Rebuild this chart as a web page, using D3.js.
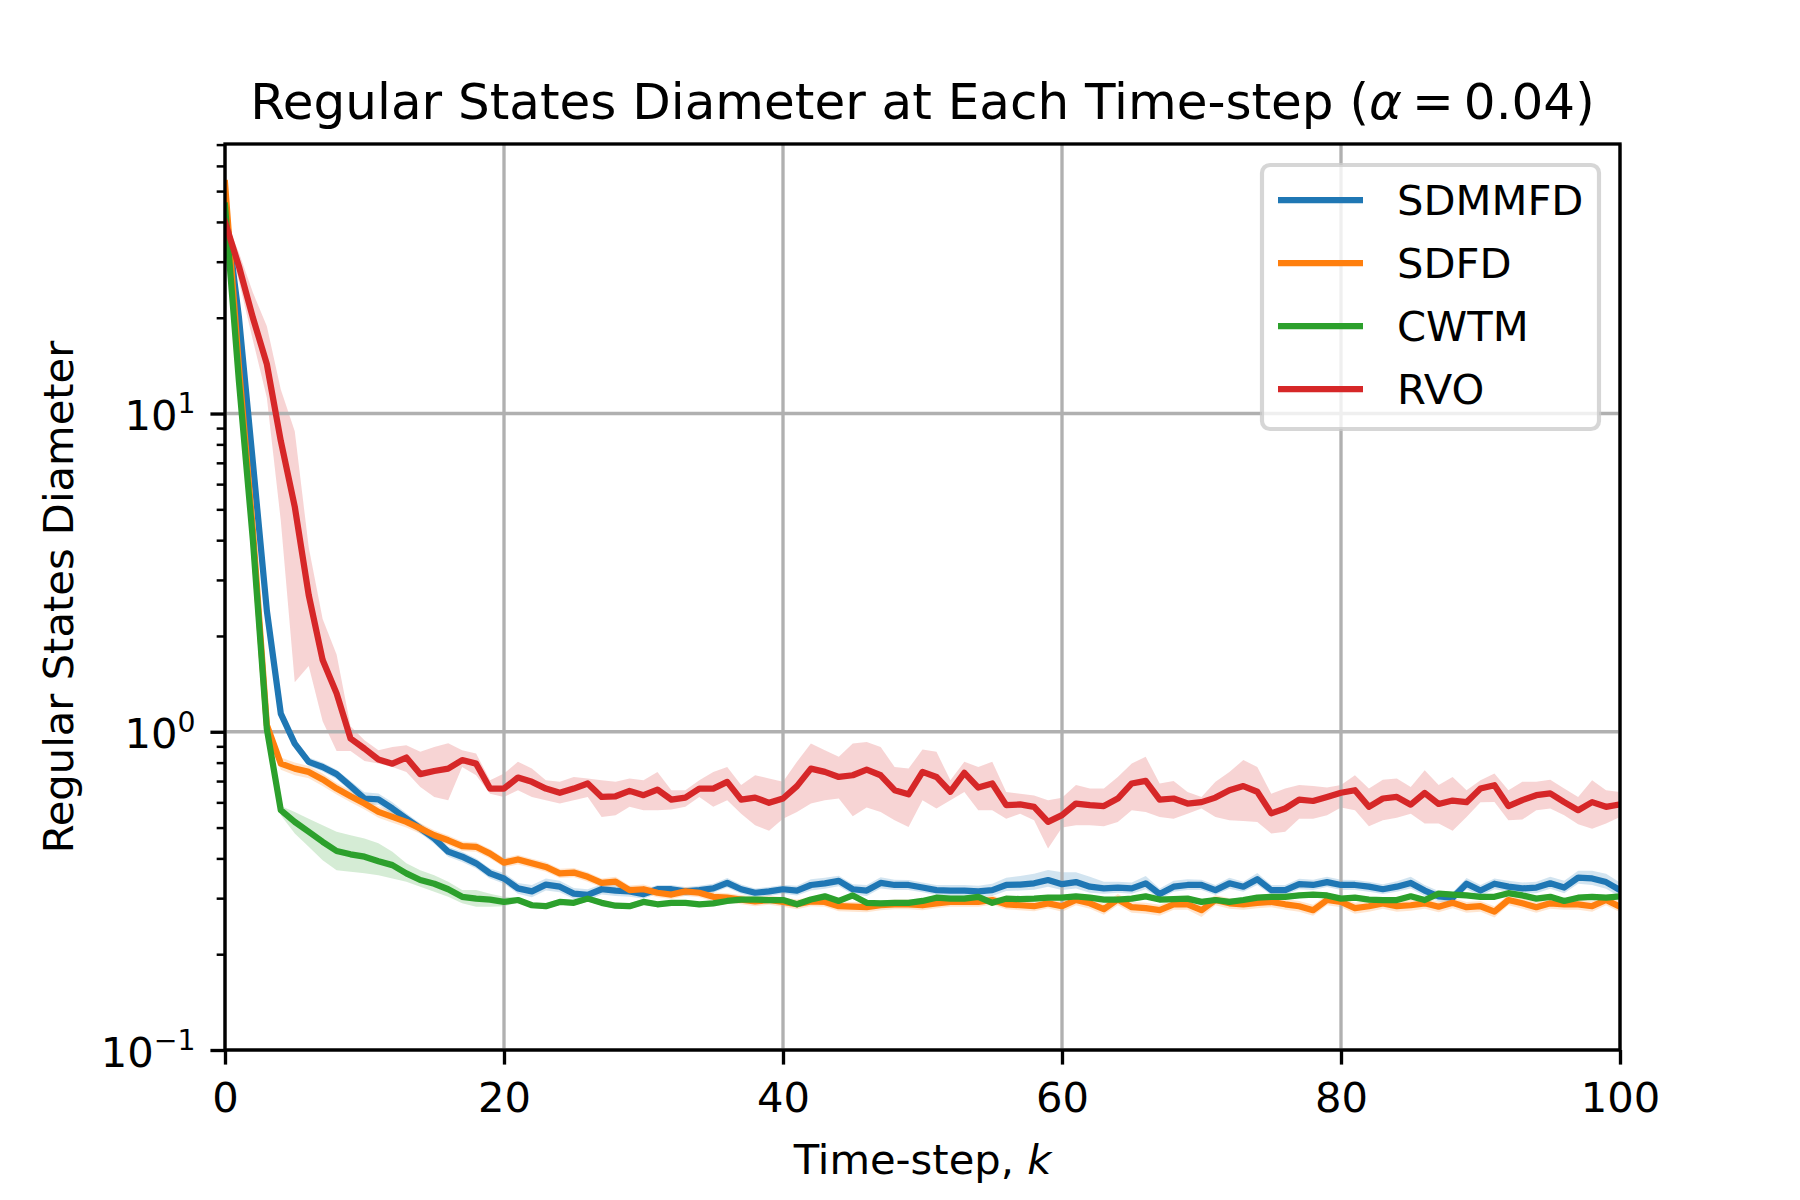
<!DOCTYPE html>
<html>
<head>
<meta charset="utf-8">
<script src="https://cdn.jsdelivr.net/npm/d3@7"></script>
<style>
  body { margin: 0; background: #fff; }
  svg text { font-family: "DejaVu Sans", sans-serif; fill: #000; }
</style>
</head>
<body>
<div id="chart"></div>
<script>

// Values, one per time-step k = 0..100

const sdmmfdMean = [
  45, 20, 7, 2.4, 1.14, 0.918, 0.804, 0.775, 0.736, 0.675,
  0.617, 0.613, 0.574, 0.534, 0.497, 0.462, 0.420, 0.405, 0.386, 0.359,
  0.346, 0.322, 0.315, 0.331, 0.326, 0.310, 0.307, 0.320, 0.317, 0.315,
  0.309, 0.320, 0.320, 0.315, 0.318, 0.322, 0.335, 0.320, 0.312, 0.315,
  0.320, 0.317, 0.330, 0.334, 0.340, 0.320, 0.317, 0.335, 0.330, 0.330,
  0.324, 0.318, 0.317, 0.317, 0.315, 0.318, 0.330, 0.331, 0.334, 0.342,
  0.332, 0.337, 0.326, 0.322, 0.324, 0.322, 0.334, 0.309, 0.326, 0.330,
  0.330, 0.318, 0.334, 0.326, 0.344, 0.318, 0.318, 0.332, 0.330, 0.337,
  0.330, 0.330, 0.326, 0.320, 0.326, 0.335, 0.317, 0.304, 0.301, 0.333,
  0.317, 0.333, 0.326, 0.322, 0.324, 0.334, 0.324, 0.348, 0.346, 0.337,
  0.318
];
const sdmmfdLow = [
  44, 18, 6.4, 2.2, 1.10, 0.89, 0.78, 0.75, 0.71, 0.65,
  0.59, 0.59, 0.55, 0.515, 0.48, 0.445, 0.405, 0.39, 0.372, 0.346,
  0.333, 0.31, 0.302, 0.317, 0.313, 0.298, 0.295, 0.308, 0.305, 0.303,
  0.299, 0.31, 0.31, 0.305, 0.308, 0.312, 0.324, 0.31, 0.302, 0.305,
  0.31, 0.306, 0.317, 0.321, 0.327, 0.308, 0.305, 0.322, 0.318, 0.318,
  0.313, 0.307, 0.305, 0.305, 0.303, 0.305, 0.316, 0.317, 0.319, 0.326,
  0.318, 0.322, 0.312, 0.31, 0.312, 0.31, 0.32, 0.298, 0.314, 0.318,
  0.318, 0.307, 0.321, 0.314, 0.33, 0.307, 0.307, 0.32, 0.318, 0.325,
  0.318, 0.318, 0.314, 0.309, 0.314, 0.322, 0.305, 0.293, 0.29, 0.32,
  0.305, 0.32, 0.314, 0.31, 0.311, 0.321, 0.311, 0.333, 0.33, 0.321,
  0.303
];
const sdmmfdHigh = [
  46, 22, 7.6, 2.6, 1.18, 0.95, 0.83, 0.80, 0.76, 0.70,
  0.645, 0.64, 0.60, 0.555, 0.515, 0.48, 0.435, 0.42, 0.40, 0.372,
  0.36, 0.335, 0.33, 0.346, 0.34, 0.323, 0.32, 0.332, 0.33, 0.327,
  0.319, 0.33, 0.33, 0.325, 0.328, 0.333, 0.347, 0.331, 0.322, 0.325,
  0.33, 0.328, 0.344, 0.348, 0.353, 0.332, 0.33, 0.349, 0.343, 0.342,
  0.336, 0.33, 0.33, 0.33, 0.328, 0.333, 0.348, 0.352, 0.358, 0.368,
  0.362, 0.362, 0.35, 0.338, 0.338, 0.336, 0.352, 0.322, 0.34, 0.344,
  0.343, 0.33, 0.348, 0.338, 0.36, 0.33, 0.33, 0.345, 0.343, 0.35,
  0.343, 0.342, 0.338, 0.332, 0.339, 0.35, 0.33, 0.316, 0.313, 0.347,
  0.33, 0.346, 0.34, 0.336, 0.338, 0.35, 0.34, 0.366, 0.366, 0.358,
  0.336
];

const sdfdMean = [
  53, 14, 4.3, 1.05, 0.794, 0.766, 0.748, 0.708, 0.663, 0.627,
  0.595, 0.560, 0.540, 0.521, 0.497, 0.473, 0.456, 0.437, 0.435, 0.414,
  0.388, 0.397, 0.386, 0.376, 0.359, 0.361, 0.350, 0.335, 0.338, 0.318,
  0.320, 0.312, 0.308, 0.315, 0.312, 0.303, 0.301, 0.297, 0.293, 0.296,
  0.292, 0.287, 0.293, 0.292, 0.283, 0.282, 0.281, 0.285, 0.287, 0.287,
  0.285, 0.289, 0.292, 0.292, 0.292, 0.296, 0.287, 0.285, 0.283, 0.289,
  0.283, 0.296, 0.289, 0.277, 0.297, 0.281, 0.279, 0.275, 0.287, 0.287,
  0.275, 0.296, 0.289, 0.287, 0.290, 0.292, 0.287, 0.283, 0.275, 0.296,
  0.292, 0.279, 0.283, 0.289, 0.283, 0.285, 0.289, 0.282, 0.290, 0.281,
  0.283, 0.272, 0.296, 0.289, 0.281, 0.289, 0.287, 0.287, 0.283, 0.296,
  0.282
];
const sdfdLow = [
  52, 13, 4.0, 0.98, 0.76, 0.73, 0.715, 0.675, 0.635, 0.60,
  0.57, 0.537, 0.518, 0.50, 0.478, 0.456, 0.44, 0.422, 0.42, 0.40,
  0.375, 0.383, 0.373, 0.363, 0.347, 0.349, 0.338, 0.324, 0.327, 0.307,
  0.31, 0.302, 0.298, 0.305, 0.302, 0.293, 0.291, 0.287, 0.283, 0.286,
  0.282, 0.277, 0.283, 0.282, 0.273, 0.272, 0.271, 0.275, 0.277, 0.277,
  0.275, 0.279, 0.282, 0.282, 0.282, 0.286, 0.277, 0.275, 0.273, 0.279,
  0.272, 0.285, 0.278, 0.266, 0.285, 0.27, 0.268, 0.264, 0.276, 0.276,
  0.262, 0.285, 0.278, 0.276, 0.279, 0.281, 0.276, 0.272, 0.264, 0.285,
  0.281, 0.268, 0.272, 0.278, 0.272, 0.274, 0.278, 0.271, 0.279, 0.27,
  0.272, 0.261, 0.285, 0.278, 0.27, 0.278, 0.276, 0.276, 0.272, 0.285,
  0.271
];
const sdfdHigh = [
  54, 15, 4.6, 1.12, 0.83, 0.80, 0.78, 0.74, 0.69, 0.655,
  0.62, 0.583, 0.562, 0.543, 0.516, 0.49, 0.472, 0.452, 0.45, 0.428,
  0.401, 0.41, 0.399, 0.389, 0.371, 0.373, 0.362, 0.346, 0.35, 0.329,
  0.331, 0.322, 0.318, 0.325, 0.322, 0.313, 0.311, 0.307, 0.303, 0.306,
  0.302, 0.297, 0.303, 0.302, 0.293, 0.292, 0.291, 0.295, 0.297, 0.297,
  0.295, 0.299, 0.302, 0.302, 0.302, 0.306, 0.297, 0.295, 0.293, 0.299,
  0.294, 0.307, 0.3, 0.288, 0.309, 0.292, 0.29, 0.286, 0.298, 0.298,
  0.288, 0.307, 0.3, 0.298, 0.301, 0.303, 0.298, 0.294, 0.286, 0.307,
  0.303, 0.29, 0.294, 0.3, 0.294, 0.296, 0.3, 0.293, 0.301, 0.292,
  0.294, 0.283, 0.307, 0.3, 0.292, 0.3, 0.298, 0.298, 0.294, 0.307,
  0.293
];

const cwtmMean = [
  45, 12.6, 4.0, 1.02, 0.567, 0.521, 0.485, 0.451, 0.422, 0.412,
  0.405, 0.392, 0.381, 0.359, 0.342, 0.333, 0.320, 0.303, 0.299, 0.297,
  0.292, 0.296, 0.285, 0.283, 0.292, 0.290, 0.299, 0.290, 0.284, 0.283,
  0.292, 0.287, 0.290, 0.290, 0.287, 0.289, 0.294, 0.297, 0.297, 0.296,
  0.296, 0.287, 0.297, 0.304, 0.294, 0.306, 0.290, 0.289, 0.290, 0.290,
  0.294, 0.301, 0.299, 0.299, 0.303, 0.290, 0.299, 0.298, 0.299, 0.301,
  0.301, 0.304, 0.301, 0.297, 0.297, 0.299, 0.304, 0.297, 0.298, 0.299,
  0.292, 0.296, 0.292, 0.296, 0.301, 0.303, 0.303, 0.306, 0.308, 0.306,
  0.299, 0.301, 0.297, 0.296, 0.296, 0.304, 0.296, 0.310, 0.308, 0.306,
  0.303, 0.303, 0.311, 0.306, 0.299, 0.303, 0.294, 0.301, 0.303, 0.301,
  0.304
];
const cwtmLow = [
  44, 11.5, 3.6, 0.95, 0.547, 0.479, 0.435, 0.395, 0.367, 0.363,
  0.359, 0.354, 0.346, 0.338, 0.326, 0.314, 0.303, 0.289, 0.282, 0.282,
  0.283, 0.29, 0.279, 0.277, 0.286, 0.284, 0.293, 0.284, 0.278, 0.277,
  0.286, 0.281, 0.284, 0.284, 0.281, 0.283, 0.288, 0.291, 0.291, 0.29,
  0.29, 0.281, 0.291, 0.298, 0.288, 0.3, 0.284, 0.283, 0.284, 0.284,
  0.288, 0.295, 0.293, 0.293, 0.297, 0.284, 0.293, 0.292, 0.293, 0.295,
  0.295, 0.298, 0.295, 0.291, 0.291, 0.293, 0.298, 0.291, 0.292, 0.293,
  0.286, 0.29, 0.286, 0.29, 0.295, 0.297, 0.297, 0.3, 0.302, 0.3,
  0.293, 0.295, 0.291, 0.29, 0.29, 0.298, 0.29, 0.304, 0.302, 0.3,
  0.297, 0.297, 0.305, 0.3, 0.293, 0.297, 0.288, 0.295, 0.297, 0.295,
  0.298
];
const cwtmHigh = [
  46, 13.8, 4.4, 1.1, 0.584, 0.56, 0.533, 0.508, 0.485, 0.473,
  0.462, 0.446, 0.42, 0.386, 0.367, 0.354, 0.338, 0.318, 0.318, 0.31,
  0.303, 0.302, 0.291, 0.289, 0.298, 0.296, 0.305, 0.296, 0.29, 0.289,
  0.298, 0.293, 0.296, 0.296, 0.293, 0.295, 0.3, 0.303, 0.303, 0.302,
  0.302, 0.293, 0.303, 0.31, 0.3, 0.312, 0.296, 0.295, 0.296, 0.296,
  0.3, 0.307, 0.305, 0.305, 0.309, 0.296, 0.305, 0.304, 0.305, 0.307,
  0.307, 0.31, 0.307, 0.303, 0.303, 0.305, 0.31, 0.303, 0.304, 0.305,
  0.298, 0.302, 0.298, 0.302, 0.307, 0.309, 0.309, 0.312, 0.314, 0.312,
  0.305, 0.307, 0.303, 0.302, 0.302, 0.31, 0.302, 0.316, 0.314, 0.312,
  0.309, 0.309, 0.317, 0.312, 0.305, 0.309, 0.3, 0.307, 0.309, 0.307,
  0.31
];

const rvoMean = [
  40, 29, 20, 14.3, 8.2, 5.1, 2.69, 1.68, 1.32, 0.952,
  0.885, 0.818, 0.794, 0.830, 0.736, 0.753, 0.766, 0.815, 0.794, 0.663,
  0.663, 0.718, 0.696, 0.663, 0.643, 0.663, 0.688, 0.624, 0.627, 0.652,
  0.632, 0.658, 0.612, 0.621, 0.663, 0.663, 0.696, 0.612, 0.621, 0.598,
  0.617, 0.675, 0.766, 0.748, 0.721, 0.730, 0.760, 0.730, 0.655, 0.636,
  0.748, 0.721, 0.648, 0.743, 0.668, 0.688, 0.588, 0.591, 0.581, 0.521,
  0.547, 0.595, 0.588, 0.584, 0.617, 0.688, 0.701, 0.612, 0.617, 0.595,
  0.601, 0.621, 0.655, 0.675, 0.648, 0.554, 0.574, 0.612, 0.606, 0.624,
  0.643, 0.655, 0.581, 0.617, 0.624, 0.590, 0.642, 0.593, 0.608, 0.601,
  0.663, 0.679, 0.584, 0.610, 0.632, 0.640, 0.601, 0.567, 0.601, 0.581,
  0.591
];
const rvoLow = [
  39, 26, 17, 11.2, 4.6, 1.43, 1.61, 1.08, 0.87, 0.87,
  0.81, 0.795, 0.775, 0.748, 0.671, 0.624, 0.609, 0.775, 0.73, 0.639,
  0.624, 0.655, 0.624, 0.609, 0.595, 0.609, 0.624, 0.54, 0.547, 0.581,
  0.567, 0.567, 0.57, 0.581, 0.624, 0.581, 0.609, 0.553, 0.508, 0.489,
  0.533, 0.56, 0.595, 0.609, 0.617, 0.543, 0.578, 0.56, 0.527, 0.502,
  0.609, 0.574, 0.609, 0.647, 0.567, 0.567, 0.533, 0.553, 0.527, 0.43,
  0.50, 0.508, 0.508, 0.505, 0.521, 0.567, 0.56, 0.54, 0.533, 0.553,
  0.574, 0.54, 0.527, 0.524, 0.521, 0.479, 0.485, 0.533, 0.533, 0.547,
  0.578, 0.567, 0.505, 0.527, 0.537, 0.553, 0.515, 0.515, 0.489, 0.54,
  0.60, 0.602, 0.527, 0.53, 0.567, 0.574, 0.547, 0.512, 0.496, 0.515,
  0.54
];
const rvoHigh = [
  41, 32, 24, 18.8, 11.9, 8.8, 3.8, 2.26, 1.75, 1.04,
  0.94, 0.875, 0.896, 0.907, 0.865, 0.896, 0.92, 0.875, 0.854, 0.704,
  0.739, 0.805, 0.766, 0.704, 0.696, 0.721, 0.713, 0.704, 0.696, 0.713,
  0.704, 0.748, 0.655, 0.655, 0.704, 0.748, 0.775, 0.68, 0.73, 0.713,
  0.696, 0.805, 0.918, 0.875, 0.834, 0.918, 0.929, 0.896, 0.775, 0.766,
  0.879, 0.865, 0.704, 0.805, 0.775, 0.805, 0.647, 0.639, 0.631, 0.609,
  0.62, 0.68, 0.663, 0.663, 0.721, 0.795, 0.834, 0.688, 0.70, 0.647,
  0.624, 0.696, 0.748, 0.815, 0.775, 0.639, 0.663, 0.68, 0.675, 0.668,
  0.68, 0.73, 0.663, 0.707, 0.713, 0.67, 0.757, 0.68, 0.721, 0.655,
  0.704, 0.739, 0.655, 0.696, 0.696, 0.707, 0.663, 0.624, 0.704, 0.655,
  0.647
];

const steps          = d3.range(0, 101);
const seriesNames    = ['SDMMFD', 'SDFD', 'CWTM', 'RVO'];
const seriesColors   = ['#1f77b4', '#ff7f0e', '#2ca02c', '#d62728'];
const seriesMeans    = [sdmmfdMean, sdfdMean, cwtmMean, rvoMean];
const seriesLows     = [sdmmfdLow, sdfdLow, cwtmLow, rvoLow];
const seriesHighs    = [sdmmfdHigh, sdfdHigh, cwtmHigh, rvoHigh];
const xTickValues    = [0, 20, 40, 60, 80, 100];
const yMajorValues   = [0.1, 1, 10];
const yMajorExponent = ['\u22121', '0', '1'];

// Layout (matplotlib 6x4 in at 300 dpi)

const width  = 1800,
      height = 1200,
      plot   = { left: 225, right: 1620, top: 144, bottom: 1050 },
      pt     = 300 / 72,
      fontSm = 10 * pt,
      fontLg = 12 * pt;

const x = d3.scaleLinear().domain([0, 100]).range([plot.left, plot.right]);
const y = d3.scaleLog().domain([0.1, 70.3]).range([plot.bottom, plot.top]);

const svg = d3.select('#chart').append('svg')
  .attr('width', width)
  .attr('height', height)
  .attr('viewBox', `0 0 ${width} ${height}`);

svg.append('defs').append('clipPath')
  .attr('id', 'plot-clip')
  .append('rect')
  .attr('x', plot.left)
  .attr('y', plot.top)
  .attr('width', plot.right - plot.left)
  .attr('height', plot.bottom - plot.top);

const series = seriesNames.map((name, s) => ({
  name,
  color: seriesColors[s],
  points: steps.map((k, i) => ({
    k,
    mean: seriesMeans[s][i],
    low: seriesLows[s][i],
    high: seriesHighs[s][i]
  }))
}));

// Bands (below grid, like matplotlib's zorder)

const band = d3.area()
  .x(d => x(d.k))
  .y0(d => y(d.low))
  .y1(d => y(d.high));

const bands = svg.append('g').attr('clip-path', 'url(#plot-clip)');

series.forEach((s) => {
  bands.append('path')
    .attr('d', band(s.points))
    .attr('fill', s.color)
    .attr('fill-opacity', 0.2)
    .attr('stroke', 'none');
});

// Grid

const grid = svg.append('g')
  .attr('stroke', '#b0b0b0')
  .attr('stroke-width', 0.8 * pt);

xTickValues.forEach((v) => {
  grid.append('line')
    .attr('x1', x(v)).attr('x2', x(v))
    .attr('y1', plot.top).attr('y2', plot.bottom);
});

yMajorValues.forEach((v) => {
  grid.append('line')
    .attr('x1', plot.left).attr('x2', plot.right)
    .attr('y1', y(v)).attr('y2', y(v));
});

// Mean lines

const line = d3.line()
  .x(d => x(d.k))
  .y(d => y(d.mean));

const lines = svg.append('g').attr('clip-path', 'url(#plot-clip)');

series.forEach((s) => {
  lines.append('path')
    .attr('d', line(s.points))
    .attr('fill', 'none')
    .attr('stroke', s.color)
    .attr('stroke-width', 1.5 * pt)
    .attr('stroke-linejoin', 'round')
    .attr('stroke-linecap', 'square');
});

// Spines

svg.append('rect')
  .attr('x', plot.left)
  .attr('y', plot.top)
  .attr('width', plot.right - plot.left)
  .attr('height', plot.bottom - plot.top)
  .attr('fill', 'none')
  .attr('stroke', '#000')
  .attr('stroke-width', 0.8 * pt);

// X axis

const xAxis = svg.append('g')
  .attr('transform', `translate(0, ${plot.bottom})`)
  .call(d3.axisBottom(x)
    .tickValues(xTickValues)
    .tickSize(3.5 * pt)
    .tickPadding(17.8)
    .tickFormat(d3.format('d')));

xAxis.select('.domain').remove();
xAxis.selectAll('.tick line').attr('stroke', '#000').attr('stroke-width', 0.8 * pt);
xAxis.selectAll('.tick text')
  .attr('fill', '#000')
  .style('font-family', '"DejaVu Sans", sans-serif')
  .style('font-size', `${fontSm}px`);

// Y axis, minor ticks first then majors with 10^n labels

const yMinor = svg.append('g')
  .attr('transform', `translate(${plot.left}, 0)`)
  .call(d3.axisLeft(y)
    .tickValues(y.ticks().filter(v => !yMajorValues.includes(v)))
    .tickSize(2 * pt)
    .tickFormat(''));

yMinor.select('.domain').remove();
yMinor.selectAll('.tick line').attr('stroke', '#000').attr('stroke-width', 0.6 * pt);

const yAxis = svg.append('g')
  .attr('transform', `translate(${plot.left}, 0)`)
  .call(d3.axisLeft(y)
    .tickValues(yMajorValues)
    .tickSize(3.5 * pt)
    .tickFormat(''));

yAxis.select('.domain').remove();
yAxis.selectAll('.tick line').attr('stroke', '#000').attr('stroke-width', 0.8 * pt);

yAxis.selectAll('.tick text').each(function (d, i) {
  const label = d3.select(this)
    .attr('x', -29.5)
    .attr('y', 16)
    .attr('dy', null)
    .attr('fill', '#000')
    .attr('text-anchor', 'end')
    .style('font-family', '"DejaVu Sans", sans-serif')
    .style('font-size', `${fontSm}px`);

  label.append('tspan').text('10');
  label.append('tspan')
    .attr('dy', -16.6)
    .style('font-size', `${fontSm * 0.68}px`)
    .text(yMajorExponent[i]);
});

// Titles

svg.append('text')
  .attr('x', (plot.left + plot.right) / 2)
  .attr('y', 119)
  .attr('text-anchor', 'middle')
  .style('font-size', `${fontLg}px`)
  .call((t) => {
    t.append('tspan').text('Regular States Diameter at Each Time-step (');
    t.append('tspan').style('font-style', 'italic').text('\u03b1');
    t.append('tspan').text('\u2009=\u20090.04)');
  });

svg.append('text')
  .attr('x', (plot.left + plot.right) / 2)
  .attr('y', 1174)
  .attr('text-anchor', 'middle')
  .style('font-size', `${fontSm}px`)
  .call((t) => {
    t.append('tspan').text('Time-step, ');
    t.append('tspan').style('font-style', 'italic').text('k');
  });

svg.append('text')
  .attr('transform', `translate(72.5, ${(plot.top + plot.bottom) / 2}) rotate(-90)`)
  .attr('text-anchor', 'middle')
  .style('font-size', `${fontSm}px`)
  .text('Regular States Diameter');

// Legend

const legend = svg.append('g');

legend.append('rect')
  .attr('x', 1262)
  .attr('y', 165)
  .attr('width', 337)
  .attr('height', 264)
  .attr('rx', 8)
  .attr('fill', '#fff')
  .attr('fill-opacity', 0.8)
  .attr('stroke', '#cccccc')
  .attr('stroke-opacity', 0.8)
  .attr('stroke-width', 1 * pt);

series.forEach((s, i) => {
  const rowY = 200 + i * 63;

  legend.append('line')
    .attr('x1', 1278).attr('x2', 1363)
    .attr('y1', rowY).attr('y2', rowY)
    .attr('stroke', s.color)
    .attr('stroke-width', 1.5 * pt)
    .attr('stroke-linecap', 'butt');

  legend.append('text')
    .attr('x', 1397)
    .attr('y', rowY + 15)
    .style('font-size', `${fontSm}px`)
    .text(s.name);
});

</script>
</body>
</html>
